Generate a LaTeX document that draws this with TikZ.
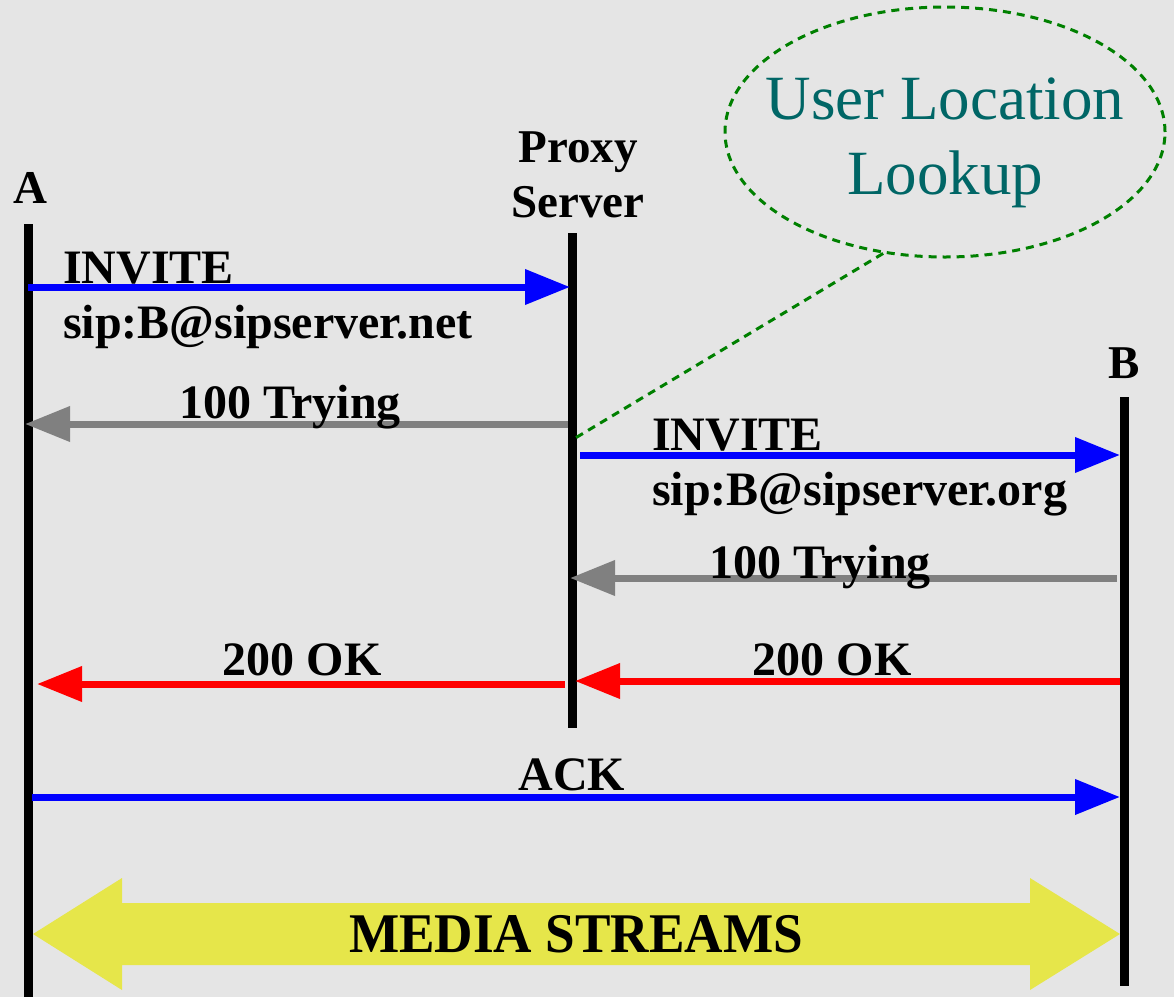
\documentclass[tikz,border=0pt]{standalone}
\usepackage{fontspec}
\setmainfont{Liberation Serif}
\usetikzlibrary{arrows.meta,shapes.geometric}
\definecolor{bgpaper}{RGB}{229,229,229}
\definecolor{msgblue}{RGB}{0,0,255}
\definecolor{msggray}{RGB}{128,128,128}
\definecolor{msgred}{RGB}{255,0,0}
\definecolor{lookteal}{RGB}{0,102,102}
\definecolor{lookgreen}{RGB}{0,128,0}
\definecolor{mediayellow}{RGB}{230,230,74}
\tikzset{
  lifeline/.style={line width=9pt, black},
  msg/.style={line width=7pt, -{Triangle[length=45pt,width=34pt]}},
  lbl/.style={font=\fontsize{48}{52}\selectfont\bfseries, inner sep=0pt},
  party/.style={font=\fontsize{47}{55}\selectfont\bfseries, inner sep=0pt, align=center},
}
\begin{document}
\begin{tikzpicture}[x=1pt,y=-1pt]
  \useasboundingbox (0,0) rectangle (1174,997);
  \fill[bgpaper] (0,0) rectangle (1174,997);

  % participants
  \node[party, anchor=base] (A) at (30,203) {A};
  \node[party, anchor=base] (P1) at (578,162) {Proxy};
  \node[party, anchor=base] (P2) at (578,217) {Server};
  \node[party, anchor=base] (B) at (1124,378) {B};

  % lifelines
  \coordinate (At) at (28,224);  \coordinate (Ab) at (28,997);
  \coordinate (Pt) at (572,233); \coordinate (Pb) at (572,728);
  \coordinate (Bt) at (1124,397); \coordinate (Bb) at (1124,986);
  \draw[lifeline] (At) -- (Ab);
  \draw[lifeline] (Pt) -- (Pb);
  \draw[lifeline] (Bt) -- (Bb);

  % message end points
  \coordinate (m1s) at (28,287);   \coordinate (m1e) at (570,287);
  \coordinate (m2s) at (568,424);  \coordinate (m2e) at (25,424);
  \coordinate (m3s) at (580,455);  \coordinate (m3e) at (1120,455);
  \coordinate (m4s) at (1117,578); \coordinate (m4e) at (570,578);
  \coordinate (m5s) at (1120,681); \coordinate (m5e) at (575,681);
  \coordinate (m6s) at (565,684);  \coordinate (m6e) at (37,684);
  \coordinate (m7s) at (32,797);   \coordinate (m7e) at (1120,797);

  % messages
  \draw[msg, msgblue] (m1s) -- (m1e);
  \draw[msg, msggray] (m2s) -- (m2e);
  \draw[msg, msgblue] (m3s) -- (m3e);
  \draw[msg, msggray] (m4s) -- (m4e);
  \draw[msg, msgred]  (m5s) -- (m5e);
  \draw[msg, msgred]  (m6s) -- (m6e);
  \draw[msg, msgblue] (m7s) -- (m7e);

  % message labels
  \node[lbl, anchor=base west] (l1a) at (63,283) {INVITE};
  \node[lbl, anchor=base west] (l1b) at (63,338) {sip:B@sipserver.net};
  \node[lbl, anchor=base] (l2) at (290,418) {100 Trying};
  \node[lbl, anchor=base west] (l3a) at (652,450) {INVITE};
  \node[lbl, anchor=base west] (l3b) at (652,505) {sip:B@sipserver.org};
  \node[lbl, anchor=base] (l4) at (820,578) {100 Trying};
  \node[lbl, anchor=base] (l5) at (832,675) {200 OK};
  \node[lbl, anchor=base] (l6) at (302,675) {200 OK};
  \node[lbl, anchor=base] (l7) at (572,790) {ACK};

  % user location lookup bubble
  \node[ellipse, draw=lookgreen, line width=3pt, dash pattern=on 8pt off 6pt,
        minimum width=440pt, minimum height=250pt, inner sep=0pt] (ull) at (945,132) {};
  \node[font=\fontsize{63}{75}\selectfont, text=lookteal, align=center, inner sep=0pt,
        anchor=base] (ullt) at (945,194) {User Location\\Lookup};
  \coordinate (pq) at (572,440);
  \draw[lookgreen, line width=3pt, dash pattern=on 8pt off 6pt] (ull.243) -- (pq);

  % media streams
  \fill[mediayellow] (33,934) -- (122,878) -- (122,903) -- (1030,903) -- (1030,878)
    -- (1120,934) -- (1030,990) -- (1030,965) -- (122,965) -- (122,990) -- cycle;
  \node[font=\fontsize{56}{60}\selectfont\bfseries, xscale=0.95, inner sep=0pt,
        anchor=base] (media) at (576,952) {MEDIA STREAMS};
\end{tikzpicture}
\end{document}
